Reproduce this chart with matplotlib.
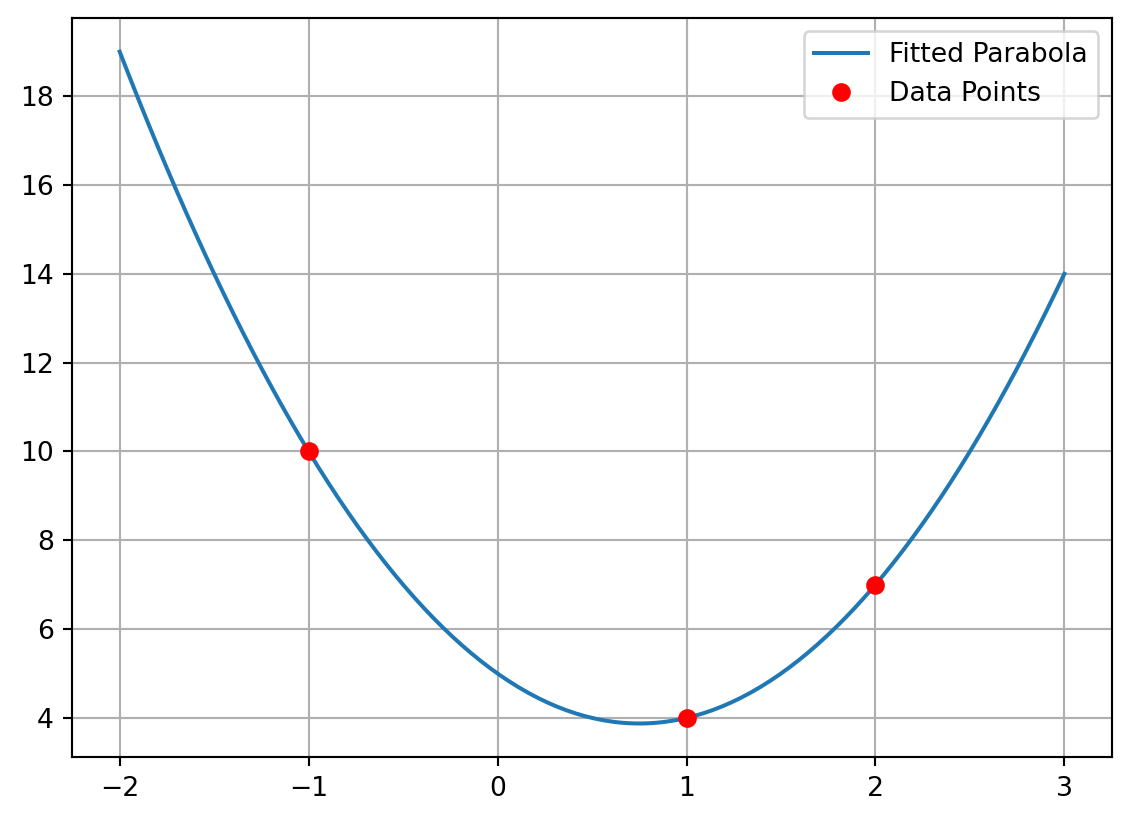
import numpy as np
import matplotlib.pyplot as plt

# observed data points
x_data = [-1, 1, 2]
y_data = [10, 4, 7]

# fit a parabola through the points
coeffs = np.polyfit(x_data, y_data, 2)
x_fit = np.linspace(-2, 3, 200)
y_fit = np.polyval(coeffs, x_fit)

fig, ax = plt.subplots(figsize=(1132 / 192, 822 / 192), dpi=192)
fig.subplots_adjust(left=0.064, right=0.982, top=0.978, bottom=0.079)
ax.plot(x_fit, y_fit, label="Fitted Parabola")
ax.plot(x_data, y_data, "ro", label="Data Points")
ax.grid(True)
ax.legend()
fig.savefig("out.png", dpi=192)
